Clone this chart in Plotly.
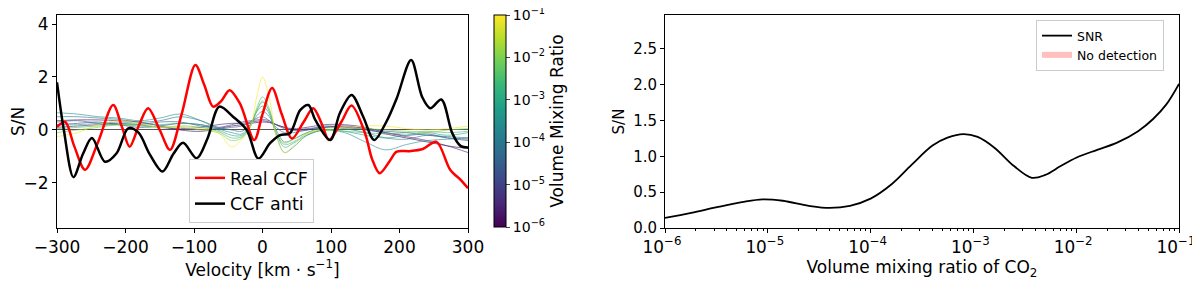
import math
import plotly.graph_objects as go
from plotly.colors import sample_colorscale

# Left panel: cross-correlation functions (velocity in km/s, value S/N)
RED_V = [-300, -288, -275, -259, -240, -218, -205, -194, -180, -167, -150, -135, -118, -98, -85,
         -72, -60, -48, -33, -12, 0, 14, 28, 43, 60, 74, 87, 97, 115, 130, 150, 160, 171, 185,
         196, 215, 234, 254, 274, 290, 300]
RED_CCF = [0.12, 0.3, -0.6, -1.5, -0.45, 0.94, 0.1, -0.63, 0.2, 0.82, 0.0, -0.75, 0.6, 2.45, 1.7,
           0.88, 1.1, 1.5, 1.0, -0.38, 0.6, 1.58, 0.6, -0.32, 0.3, 0.82, 0.2, -0.38, 0.3, 0.92, -0.15,
           -1.1, -1.63, -1.2, -0.82, -0.8, -0.72, -0.45, -1.5, -1.9, -2.2]

BLACK_V = [-300, -290, -276, -262, -249, -230, -213, -196, -181, -165, -146, -130, -116, -96, -80,
           -63, -43, -23, -6, 11, 25, 40, 55, 67, 77, 99, 113, 130, 147, 163, 181, 196, 217, 233,
           245, 261, 277, 289, 300]
ANTI_CCF = [1.8, 0.0, -1.78, -0.9, -0.3, -1.2, -0.88, 0.06, -0.1, -0.9, -1.57, -0.9, -0.48, -1.07,
            -0.3, 0.88, 0.5, 0.0, -1.08, -0.5, -0.2, -0.12, 0.75, 0.94, 0.38, -0.38, 0.64, 1.32, 0.5,
            -0.38, 0.32, 1.2, 2.64, 1.25, 0.82, 1.15, -0.12, -0.6, -0.66]

# injected model CCFs for several volume mixing ratios
V_MODEL = [-300, -270, -240, -210, -180, -150, -120, -90, -65, -45, -30, -18, -8, 0, 10, 20, 32,
           45, 65, 90, 120, 150, 180, 210, 240, 270, 300]
VMR_MODEL = [1e-6, 3e-6, 1e-5, 3e-5, 1e-4, 3e-4, 1e-3, 3e-3, 1e-2, 1e-1]
MODEL_CCF = [
    [0.35, 0.38, 0.38, 0.35, 0.3, 0.15, 0.0, -0.05, 0.05, 0.15, 0.2, 0.25, 0.28, 0.3, 0.28, 0.2, 0.1,
     0.0, 0.0, 0.1, 0.15, 0.05, -0.15, -0.3, -0.45, -0.6, -0.7],
    [0.1, 0.15, 0.2, 0.25, 0.2, 0.1, 0.05, 0.1, 0.2, 0.25, 0.25, 0.3, 0.33, 0.35, 0.3, 0.2, 0.1,
     0.05, 0.1, 0.2, 0.2, 0.1, -0.1, -0.25, -0.4, -0.6, -0.85],
    [0.2, 0.25, 0.3, 0.2, 0.1, 0.15, 0.25, 0.2, 0.1, 0.2, 0.3, 0.35, 0.38, 0.4, 0.35, 0.2, 0.05,
     0.0, 0.05, 0.1, 0.1, 0.0, -0.1, -0.2, -0.15, -0.3, -0.4],
    [0.3, 0.35, 0.25, 0.2, 0.2, 0.3, 0.3, 0.15, 0.05, 0.1, 0.15, 0.3, 0.45, 0.5, 0.35, 0.1, -0.1,
     -0.1, 0.0, 0.15, 0.1, 0.05, -0.05, -0.1, -0.2, -0.25, -0.3],
    [0.5, 0.5, 0.45, 0.4, 0.3, 0.35, 0.5, 0.35, 0.1, 0.0, -0.05, 0.2, 0.55, 0.7, 0.5, 0.0, -0.45,
     -0.35, -0.1, 0.1, 0.05, -0.1, -0.3, -0.35, -0.2, -0.3, -0.35],
    [0.65, 0.6, 0.5, 0.45, 0.35, 0.45, 0.6, 0.35, 0.05, -0.1, -0.15, 0.2, 0.7, 0.9, 0.6, -0.2, -0.85,
     -0.65, -0.2, 0.0, -0.1, -0.45, -0.75, -0.55, -0.4, -0.35, -0.3],
    [0.2, 0.2, 0.25, 0.3, 0.25, 0.2, 0.25, 0.2, 0.0, -0.2, -0.2, 0.15, 0.75, 1.05, 0.7, -0.1, -0.65,
     -0.5, -0.2, 0.0, -0.05, -0.2, -0.3, -0.2, -0.1, -0.2, -0.1],
    [0.05, 0.1, 0.15, 0.2, 0.15, 0.1, 0.15, 0.1, -0.05, -0.3, -0.25, 0.1, 0.85, 1.25, 0.8, -0.1,
     -0.55, -0.45, -0.15, 0.0, -0.05, -0.1, -0.15, -0.1, -0.05, -0.1, -0.05],
    [-0.1, 0.0, 0.1, 0.2, 0.2, 0.1, 0.1, 0.0, -0.1, -0.4, -0.3, 0.1, 0.75, 1.1, 0.7, -0.1, -0.5,
     -0.35, -0.1, 0.0, 0.05, 0.05, 0.0, -0.05, -0.1, 0.0, 0.05],
    [-0.25, -0.1, 0.2, 0.35, 0.25, 0.1, 0.15, 0.05, -0.1, -0.64, -0.35, 0.1, 1.3, 2.0, 1.2, -0.2,
     -0.85, -0.6, -0.15, 0.05, 0.1, 0.15, 0.15, 0.05, 0.0, 0.05, 0.15],
]
VMR_EXP = [-6, -5, -4, -3, -2, -1]

# Right panel: S/N versus CO2 volume mixing ratio
VMR_SNR = [1.0e-6, 1.8e-6, 3.2e-6, 5.6e-6, 8.9e-6, 1.4e-5, 2.5e-5, 4.0e-5, 6.3e-5, 1.0e-4, 1.6e-4,
           2.5e-4, 4.0e-4, 5.6e-4, 8.0e-4, 1.1e-3, 1.6e-3, 2.5e-3, 3.7e-3, 5.0e-3, 7.0e-3, 1.0e-2,
           1.6e-2, 2.5e-2, 4.0e-2, 5.6e-2, 7.5e-2, 1.0e-1]
SNR = [0.14, 0.21, 0.29, 0.36, 0.40, 0.38, 0.31, 0.28, 0.31, 0.41, 0.61, 0.88, 1.15, 1.26, 1.31,
       1.27, 1.12, 0.86, 0.70, 0.74, 0.86, 0.98, 1.09, 1.19, 1.35, 1.52, 1.72, 2.01]

FONT = "DejaVu Sans"
# the page body adds an 8px margin, so everything is placed 8px up/left
PAGE_PAD = 8
W, H = 1200, 281


def px_x(p):
    return (p - PAGE_PAD) / W


def px_y(p):
    return 1 - (p - PAGE_PAD) / H


fig = go.Figure()

for vmr, vals in zip(VMR_MODEL, MODEL_CCF):
    c = sample_colorscale("Viridis", [(math.log10(vmr) + 6) / 5])[0]
    fig.add_trace(go.Scatter(x=V_MODEL, y=vals, mode="lines", line=dict(color=c, width=1, shape="spline"),
                             opacity=0.6, showlegend=False, xaxis="x", yaxis="y"))

fig.add_trace(go.Scatter(x=RED_V, y=RED_CCF, mode="lines", name="Real CCF",
                         line=dict(color="#ff0000", width=2.5, shape="spline", smoothing=0.9),
                         xaxis="x", yaxis="y", legend="legend"))
fig.add_trace(go.Scatter(x=BLACK_V, y=ANTI_CCF, mode="lines", name="CCF anti",
                         line=dict(color="black", width=2.5, shape="spline", smoothing=0.9),
                         xaxis="x", yaxis="y", legend="legend"))

# colour bar for the model lines
fig.add_trace(go.Scatter(
    x=[None], y=[None], mode="markers", showlegend=False, xaxis="x", yaxis="y",
    marker=dict(color=[-6], cmin=-6, cmax=-1, colorscale="Viridis", showscale=True,
                colorbar=dict(
                    x=px_x(494), xanchor="left", y=px_y(121), yanchor="middle",
                    thickness=12, len=212, lenmode="pixels", xpad=0, ypad=0,
                    outlinewidth=1, outlinecolor="black", ticklabeloverflow="allow",
                    tickvals=VMR_EXP, ticktext=[f"10<sup>−{-e}</sup>" for e in VMR_EXP],
                    ticks="outside", ticklen=4, tickfont=dict(size=14, family=FONT, color="black"),
                    title=dict(text="Volume Mixing Ratio", side="right",
                               font=dict(size=17, family=FONT, color="black")),
                )),
))

fig.add_trace(go.Scatter(x=VMR_SNR, y=SNR, mode="lines", name="SNR",
                         line=dict(color="black", width=1.8, shape="spline"),
                         xaxis="x2", yaxis="y2", legend="legend2"))
fig.add_trace(go.Scatter(x=[None], y=[None], mode="none", fill="toself", name="No detection",
                         fillcolor="rgba(255,0,0,0.25)", xaxis="x2", yaxis="y2", legend="legend2"))

axis_common = dict(showline=True, mirror=True, linecolor="black", linewidth=1, showgrid=False,
                   ticks="outside", ticklen=4, tickcolor="black", automargin=False,
                   ticklabeloverflow="allow")

fig.update_layout(
    width=W, height=H,
    margin=dict(l=0, r=0, t=0, b=0, autoexpand=False),
    paper_bgcolor="white", plot_bgcolor="white",
    font=dict(family=FONT, color="black"),
    xaxis=dict(domain=[px_x(57), px_x(468)], range=[-300, 300], tickvals=[-300, -200, -100, 0, 100, 200, 300],
               tickfont=dict(size=17), zeroline=False,
               title=dict(text="Velocity [km · s<sup>−1</sup>]", font=dict(size=17), standoff=5),
               **axis_common),
    yaxis=dict(domain=[px_y(228), px_y(15)], range=[-3.7, 4.34], tickvals=[-2, 0, 2, 4],
               tickfont=dict(size=17), title=dict(text="S/N", font=dict(size=17), standoff=6),
               zeroline=True, zerolinecolor="#555555", zerolinewidth=1, **axis_common),
    xaxis2=dict(domain=[px_x(665), px_x(1179)], type="log", range=[-6, -1], dtick=1,
                exponentformat="power", showexponent="all", tickfont=dict(size=13.5), zeroline=False,
                ticklabelshift=-3,
                minor=dict(ticks="outside", ticklen=2, tickcolor="black", dtick="D1"),
                title=dict(text="Volume mixing ratio of CO<sub>2</sub>", font=dict(size=17), standoff=5),
                anchor="y2", **axis_common),
    yaxis2=dict(domain=[px_y(228), px_y(15)], range=[0, 2.97], dtick=0.5, tickformat=".1f",
                tickfont=dict(size=15), zeroline=False,
                title=dict(text="S/N", font=dict(size=15), standoff=4),
                anchor="x2", **axis_common),
    legend=dict(x=px_x(189), y=px_y(159), xanchor="left", yanchor="top",
                bgcolor="rgba(255,255,255,0.8)", bordercolor="#cccccc", borderwidth=1,
                font=dict(size=17.5)),
    legend2=dict(x=px_x(1036), y=px_y(20), xanchor="left", yanchor="top",
                 bgcolor="rgba(255,255,255,0.8)", bordercolor="#cccccc", borderwidth=1,
                 font=dict(size=12.5)),
)

fig.write_html("out.html")
